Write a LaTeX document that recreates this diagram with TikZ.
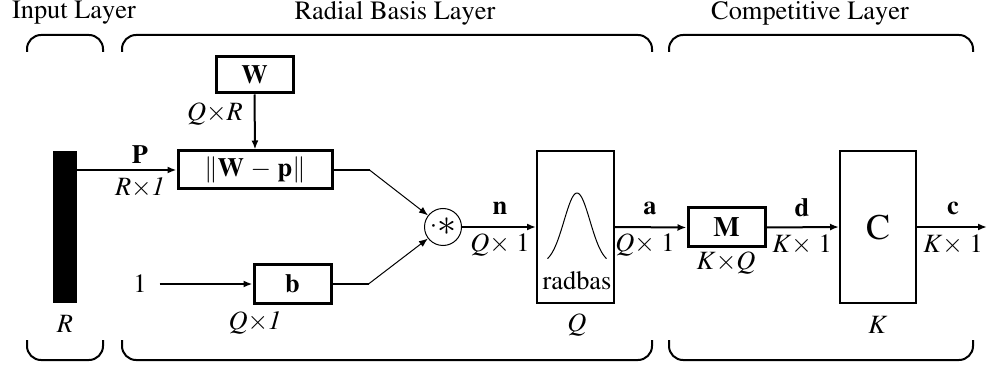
\documentclass[tikz,border=0pt]{standalone}
\usepackage[T1]{fontenc}
\usepackage{mathptmx}
\usepackage{amsmath}
\usetikzlibrary{arrows.meta}

\begin{document}
\begin{tikzpicture}[x=0.5pt, y=-0.5pt,
        every node/.style={font=\fontsize{13.2}{15}\selectfont},
        blk/.style={draw, line width=1.5pt, inner sep=0pt, minimum width=38.5pt, minimum height=19pt},
        tall/.style={draw, line width=1pt, inner sep=0pt, minimum width=38.5pt, minimum height=76pt},
        wire/.style={line width=1pt, -{Latex[length=4.5pt,width=3.5pt]}},
        slim/.style={line width=0.5pt, -{Latex[length=4.5pt,width=3.5pt]}},
        brace/.style={line width=1pt, rounded corners=7pt}]
        \useasboundingbox (0,0) rectangle (988,368);
        \node (tin) at (74,13) {Input Layer};
        \node (trb) at (395,13) {Radial Basis Layer};
        \node (tcp) at (810,13) {Competitive Layer};
        \foreach \l/\r in {27/103, 122/652, 669/973} {
            \draw[brace] (\l,52) -- (\l,35) -- (\r,35) -- (\r,52);
            \draw[brace] (\l,340) -- (\l,360) -- (\r,360) -- (\r,340);
        }
        \node[fill, inner sep=0pt, minimum width=12pt, minimum height=76pt] (bar) at (65,227) {};
        \node[blk, minimum height=18pt] (wbox) at (254.5,75) {$\mathbf{W}$};
        \node[blk, minimum width=77pt] (dist) at (255,170) {$\|\mathbf{W}\,-\,\mathbf{p}\|$};
        \node[blk, minimum height=19.5pt] (bbox) at (292.5,284) {$\mathbf{b}$};
        \node (one) at (140,284) {1};
        \node[draw, circle, line width=0.5pt, inner sep=0pt, minimum size=18.5pt] (mult) at (443,227) {$\cdot$\raisebox{-1.5pt}{\fontsize{19}{19}\selectfont$\ast$}};
        \node[tall] (radbas) at (575.5,227) {};
        \node[blk, minimum height=19.5pt] (mbox) at (726.5,227.5) {\fontsize{14}{16}\selectfont $\mathbf{M}$};
        \node[tall, minimum width=38pt] (cbox) at (878,227) {\fontsize{18}{20}\selectfont C};
        \coordinate (out) at (987,227);
        \draw[white, line width=1.2pt] ([yshift=-18pt]radbas.north west) -- ([yshift=18pt]radbas.south west);
        \draw[line width=0.3pt] ([yshift=-18pt]radbas.north west) -- ([yshift=18pt]radbas.south west);
        \draw[line width=0.5pt, domain=-29.5:29.5, samples=60] plot ({577+\x},{264-71*exp(-(\x/13)^2/2)});
        \node (rbtxt) at (577,281) {radbas};
        \draw[wire] (bar.east |- dist.west) -- (dist.west);
        \draw[wire] (wbox.south) -- (dist.north);
        \draw[wire] (one.east) ++(6,0) -- (bbox.west);
        \draw[line width=1pt] (dist.east) -- ++(36,0) coordinate (kup);
        \draw[line width=1pt] (bbox.east) -- ++(36,0) coordinate (kdn);
        \draw[slim] (kup) -- (mult);
        \draw[slim] (kdn) -- (mult);
        \draw[wire] (mult) -- (radbas.west);
        \draw[wire] (radbas.east) -- (mbox.west);
        \draw[wire] (mbox.east) -- (cbox.west);
        \draw[wire] (cbox.east) -- (out);
        \node (lqr) at (215,114) {$Q{\times}R$};
        \node (lp) at (140,155) {$\mathbf{P}$};
        \node (lr1) at (140,188) {$R{\times}\mathit{1}$};
        \node (lr) at (65,324) {$R$};
        \node (lq1) at (255,323) {$Q{\times}\mathit{1}$};
        \node (ln) at (500,208) {$\mathbf{n}$};
        \node (lnq) at (500,245) {$Q\times$ 1};
        \node (lq) at (577,325) {$Q$};
        \node (la) at (650,208) {$\mathbf{a}$};
        \node (laq) at (645,245) {$Q\times$ 1};
        \node (lkq) at (726,263) {$K{\times}Q$};
        \node (ld) at (802,208) {$\mathbf{d}$};
        \node (ldk) at (802,245) {$K\times$ 1};
        \node (lk) at (878,325) {$K$};
        \node (lc) at (953,208) {$\mathbf{c}$};
        \node (lck) at (953,245) {$K\times$ 1};
    \end{tikzpicture}
\end{document}
